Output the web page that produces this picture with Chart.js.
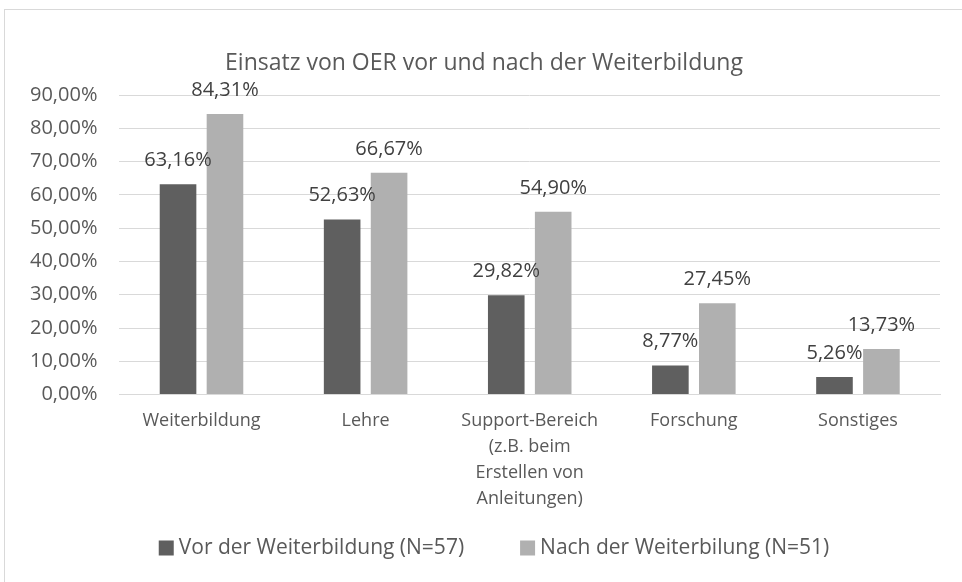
<!DOCTYPE html>
<html lang="de">
  <head>
    <meta charset="UTF-8" />
    <title>Einsatz von OER</title>
    <script src="https://cdn.jsdelivr.net/npm/chart.js"></script>
    <style>
      body { margin: 0; background: #fff; }
      .frame {
        position: absolute; left: 4px; top: 9px;
        width: 980px; height: 600px;
        border: 1px solid #d9d9d9;
      }
      .wrap { position: absolute; left: 0; top: 0; width: 962px; height: 582px; }
    </style>
  </head>
  <body>
    <div class="frame"></div>
    <div class="wrap"><canvas id="myChart"></canvas></div>
    <script>
      const titleText = "Einsatz von OER vor und nach der Weiterbildung";
      const categories = [
        "Weiterbildung",
        "Lehre",
        ["Support-Bereich", "(z.B. beim", "Erstellen von", "Anleitungen)"],
        "Forschung",
        "Sonstiges",
      ];
      const vorWerte = [63.16, 52.63, 29.82, 8.77, 5.26];
      const nachWerte = [84.31, 66.67, 54.9, 27.45, 13.73];
      const seriesNames = ["Vor der Weiterbildung (N=57)", "Nach der Weiterbilung (N=51)"];
      const seriesColors = ["#5f5f5f", "#b0b0b0"];

      const fontName = "'Open Sans', sans-serif";
      const fmt = function (v) {
        return v.toFixed(2).replace(".", ",") + "%";
      };

      // Werte ueber den Balken, Titel und Legende (wie in Excel)
      const excelPlugin = {
        id: "excelLook",
        afterDatasetsDraw(chart) {
          const c = chart.ctx;
          c.save();
          c.font = "20px " + fontName;
          c.fillStyle = "#404040";
          c.textAlign = "center";
          c.textBaseline = "alphabetic";
          chart.data.datasets.forEach(function (ds, i) {
            chart.getDatasetMeta(i).data.forEach(function (bar, j) {
              c.fillText(fmt(ds.data[j]), bar.x, bar.y - 18);
            });
          });

          // Titel
          c.font = "23px " + fontName;
          c.fillStyle = "#595959";
          c.textBaseline = "middle";
          c.fillText(titleText, 484, 63);

          // Legende
          c.font = "21px " + fontName;
          c.textAlign = "left";
          const w = seriesNames.map(function (s) { return c.measureText(s).width; });
          const total = 20 + w[0] + 56 + 20 + w[1];
          let x = 494 - total / 2;
          const y = 548;
          chart.data.datasets.forEach(function (ds, i) {
            c.fillStyle = ds.backgroundColor;
            c.fillRect(x, y - 7.5, 15, 15);
            c.fillStyle = "#595959";
            c.fillText(seriesNames[i], x + 20, y);
            x += 20 + w[i] + 56;
          });
          c.restore();
        },
      };

      const ctx = document.querySelector("#myChart");
      new Chart(ctx, {
        type: "bar",
        data: {
          labels: categories,
          datasets: [
            { label: seriesNames[0], data: vorWerte, backgroundColor: seriesColors[0], barPercentage: 0.78, categoryPercentage: 0.572 },
            { label: seriesNames[1], data: nachWerte, backgroundColor: seriesColors[1], barPercentage: 0.78, categoryPercentage: 0.572 },
          ],
        },
        plugins: [excelPlugin],
        options: {
          responsive: true,
          maintainAspectRatio: false,
          animation: false,
          layout: { padding: { left: 8, right: 22, top: 95, bottom: 65 } },
          plugins: {
            title: { display: false },
            legend: { display: false },
            tooltip: { enabled: false },
          },
          scales: {
            x: {
              grid: { display: false },
              border: { color: "#d9d9d9" },
              ticks: {
                color: "#595959",
                font: { family: fontName, size: 18, lineHeight: 1.45 },
                maxRotation: 0,
                padding: 5,
              },
            },
            y: {
              min: 0,
              max: 90,
              grid: { color: "#d9d9d9", drawTicks: false },
              border: { display: false },
              ticks: {
                stepSize: 10,
                color: "#595959",
                font: { family: fontName, size: 20 },
                padding: 22,
                callback: function (v) { return fmt(v); },
              },
            },
          },
        },
      });
    </script>
  </body>
</html>
